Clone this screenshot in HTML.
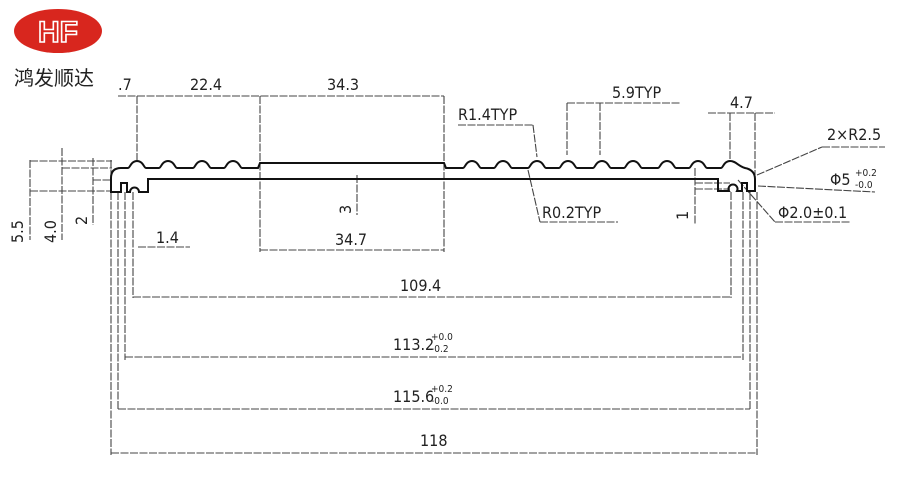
<!DOCTYPE html>
<html><head><meta charset="utf-8"><style>
html,body{margin:0;padding:0;background:#fff;}
svg{display:block;}
text{font-family:"DejaVu Sans Condensed","Liberation Sans",sans-serif;fill:#222;}
</style></head><body>
<svg width="900" height="500" viewBox="0 0 900 500" xmlns="http://www.w3.org/2000/svg">
<rect width="900" height="500" fill="#fff"/>
<!-- logo -->
<ellipse cx="58" cy="31" rx="44" ry="22" fill="#d8261e"/>
<text x="58" y="42" font-size="30" font-weight="bold" text-anchor="middle" style="fill:#d8261e;stroke:#fff;stroke-width:1.6;font-family:'Liberation Sans',sans-serif">HF</text>
<text x="14" y="85" font-size="20" style="font-family:'Liberation Sans','Noto Sans CJK SC',sans-serif;fill:#222">鸿发顺达</text>

<g stroke="#444" stroke-width="1.1" fill="none" stroke-dasharray="8 1.5">
<!-- top dims -->
<line x1="118" y1="96" x2="444" y2="96"/>
<line x1="137" y1="96" x2="137" y2="160"/>
<line x1="260" y1="96" x2="260" y2="252"/>
<line x1="444" y1="96" x2="444" y2="252"/>
<line x1="260" y1="250" x2="444" y2="250"/>
<line x1="138" y1="247" x2="190" y2="247"/>
<line x1="357" y1="175" x2="357" y2="215"/>
<!-- left vertical dims -->
<line x1="30" y1="160" x2="30" y2="240"/>
<line x1="62" y1="148" x2="62" y2="240"/>
<line x1="93" y1="158" x2="93" y2="225"/>
<line x1="30" y1="161" x2="112" y2="161"/>
<line x1="62" y1="168" x2="112" y2="168"/>
<line x1="93" y1="180" x2="112" y2="180"/>
<line x1="30" y1="191" x2="112" y2="191"/>
<line x1="111" y1="160" x2="111" y2="192"/>
<!-- hook ext lines -->
<line x1="111" y1="192" x2="111" y2="455"/>
<line x1="118" y1="192" x2="118" y2="410"/>
<line x1="125" y1="192" x2="125" y2="360"/>
<line x1="133" y1="192" x2="133" y2="298"/>
<line x1="757" y1="192" x2="757" y2="455"/>
<line x1="750" y1="192" x2="750" y2="410"/>
<line x1="743" y1="192" x2="743" y2="360"/>
<line x1="731" y1="192" x2="731" y2="298"/>
<line x1="133" y1="297" x2="731" y2="297"/>
<line x1="125" y1="357" x2="743" y2="357"/>
<line x1="118" y1="409" x2="750" y2="409"/>
<line x1="111" y1="453" x2="757" y2="453"/>
<!-- right top -->
<line x1="567" y1="103" x2="680" y2="103"/>
<line x1="567" y1="103" x2="567" y2="155"/>
<line x1="600" y1="103" x2="600" y2="155"/>
<line x1="708" y1="113" x2="775" y2="113"/>
<line x1="730" y1="113" x2="730" y2="160"/>
<line x1="755" y1="113" x2="755" y2="175"/>
<line x1="458" y1="125" x2="533" y2="125"/>
<line x1="533" y1="125" x2="537" y2="157"/>
<line x1="528" y1="170" x2="540" y2="222"/>
<line x1="540" y1="222" x2="618" y2="222"/>
<line x1="757" y1="175" x2="822" y2="147"/>
<line x1="822" y1="147" x2="885" y2="147"/>
<line x1="758" y1="186" x2="875" y2="192"/>
<line x1="738" y1="180" x2="775" y2="222"/>
<line x1="775" y1="222" x2="850" y2="222"/>
<line x1="695" y1="168" x2="695" y2="225"/>
<line x1="695" y1="183" x2="730" y2="183"/>
<line x1="695" y1="189" x2="730" y2="189"/>
</g>

<!-- profile -->
<path fill="none" stroke="#111" stroke-width="2" d="
M111,192 L111,178 Q111,168 121,168 L128,168
C130,168 131,161 137,161 C143,161 144,168 146,168
L159,168 C161,168 162,161 168,161 C174,161 175,168 177,168
L193,168 C195,168 196,161 202,161 C208,161 209,168 211,168
L224,168 C226,168 227,161 233,161 C239,161 240,168 242,168
L258,168 L260,163 L444,163 L446,168
L463,168 C465,168 466,161 472,161 C478,161 479,168 481,168
L494,168 C496,168 497,161 503,161 C509,161 510,168 512,168
L528,168 C530,168 531,161 537,161 C543,161 544,168 546,168
L559,168 C561,168 562,161 568,161 C574,161 575,168 577,168
L593,168 C595,168 596,161 602,161 C608,161 609,168 611,168
L624,168 C626,168 627,161 633,161 C639,161 640,168 642,168
L658,168 C660,168 661,161 667,161 C673,161 674,168 676,168
L689,168 C691,168 692,161 698,161 C704,161 705,168 707,168
L721,168 C723,168 724,161 730,161 C736,161 738,166 745,168
Q755,170 755,179 L755,191 L747,191 L747,183 L742,183 L742,191 L737,191
A4.5,4.5 0 1 0 729,191 L718,191 L718,179
L148,179 L148,192 L139,192 A4.5,4.5 0 1 0 130,192 L127,192 L127,183 L121,183 L121,192 Z"/>

<g font-size="16">
<text x="118" y="90">.7</text>
<text x="190" y="90">22.4</text>
<text x="327" y="90">34.3</text>
<text x="156" y="243">1.4</text>
<text x="335" y="245">34.7</text>
<text x="458" y="120">R1.4TYP</text>
<text x="612" y="98">5.9TYP</text>
<text x="730" y="108">4.7</text>
<text x="827" y="140">2×R2.5</text>
<text x="830" y="185">Φ5</text>
<text x="855" y="176" font-size="10">+0.2</text>
<text x="855" y="188" font-size="10">-0.0</text>
<text x="542" y="218">R0.2TYP</text>
<text x="778" y="218">Φ2.0±0.1</text>
<text x="400" y="291">109.4</text>
<text x="393" y="350">113.2</text>
<text x="431" y="340" font-size="10">+0.0</text>
<text x="431" y="352" font-size="10">-0.2</text>
<text x="393" y="402">115.6</text>
<text x="431" y="392" font-size="10">+0.2</text>
<text x="431" y="404" font-size="10">-0.0</text>
<text x="420" y="446">118</text>
<text transform="translate(23,243) rotate(-90)">5.5</text>
<text transform="translate(56,243) rotate(-90)">4.0</text>
<text transform="translate(87,225) rotate(-90)">2</text>
<text transform="translate(351,214) rotate(-90)">3</text>
<text transform="translate(688,220) rotate(-90)">1</text>
</g>
</svg>
</body></html>
